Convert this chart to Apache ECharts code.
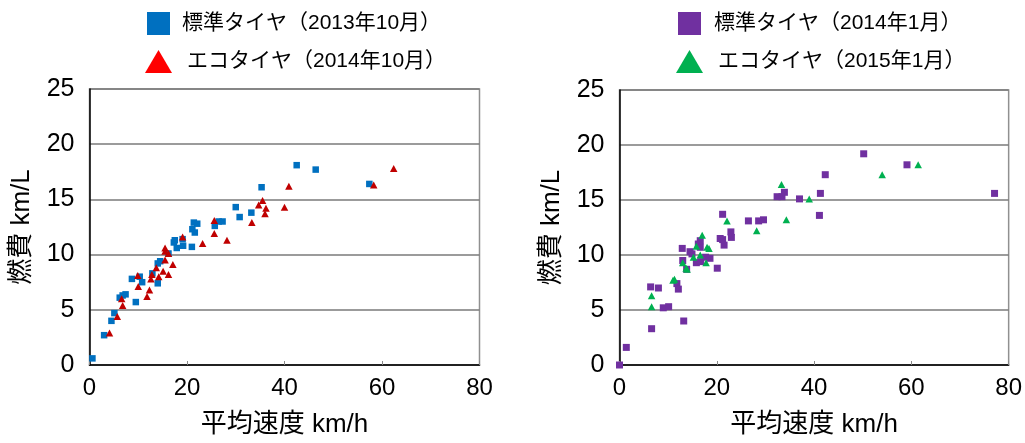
<!DOCTYPE html>
<html>
<head>
<meta charset="utf-8">
<script src="https://cdn.jsdelivr.net/npm/echarts@6/dist/echarts.min.js"></script>
<style>
  html, body { margin: 0; padding: 0; background: #fff; }
  #chart { width: 1025px; height: 443px; }
</style>
</head>
<body>
<div id="chart"></div>
<script>
// Fuel economy (km/L) versus average speed (km/h), standard vs eco tyres
const seriesNames = [
  '標準タイヤ（2013年10月）',
  'エコタイヤ（2014年10月）',
  '標準タイヤ（2014年1月）',
  'エコタイヤ（2015年1月）'
];
const xTicks = [0, 20, 40, 60, 80];
const yTicks = [0, 5, 10, 15, 20, 25];
const xName = '平均速度 km/h';
const yName = '燃費 km/L';

// [average speed, fuel economy]
const standard201310 = [
  [0.6,0.6],[3.0,2.7],[4.5,4.0],[5.1,4.7],[6.2,6.1],[6.8,6.3],[7.4,6.4],[8.7,7.8],
  [9.5,5.7],[10.3,8.0],[10.8,7.5],[12.9,8.3],[14.0,7.4],[14.0,9.2],[14.5,9.4],
  [16.2,10.1],[17.3,11.1],[17.5,11.3],[17.9,10.6],[19.2,10.8],[19.1,11.4],[21.0,10.7],
  [21.1,12.3],[21.6,12.0],[21.4,12.9],[22.1,12.8],[25.7,12.6],[26.5,13.0],[27.3,13.0],
  [30.0,14.3],[30.8,13.4],[33.2,13.8],[35.3,16.1],[42.5,18.1],[46.4,17.7],[57.4,16.4]
];
const eco201410 = [
  [4.1,2.9],[5.7,4.4],[6.8,5.4],[6.6,6.0],[9.9,8.1],[10.0,7.1],[11.8,6.2],[12.3,6.8],
  [12.6,7.8],[12.8,8.2],[13.7,8.8],[14.2,8.0],[15.1,8.5],[15.5,9.5],[15.5,10.3],
  [15.5,10.6],[16.2,8.2],[16.2,10.1],[17.1,9.1],[19.1,11.6],[23.2,11.0],[25.6,13.1],
  [25.6,11.9],[28.2,11.3],[33.3,12.9],[34.7,14.5],[35.5,14.9],[36.2,14.2],[36.0,13.7],
  [40.0,14.3],[40.9,16.2],[58.3,16.3],[62.4,17.8]
];
const standard201401 = [
  [0,0],[1.4,1.6],[6.6,3.3],[6.4,7.1],[8.0,7.0],[9.0,5.2],[10.1,5.3],[13.2,4.0],
  [11.8,7.4],[12.1,6.9],[12.9,10.6],[13.0,9.5],[13.8,8.7],[14.5,10.3],[14.9,10.1],
  [15.8,9.3],[16.2,11.0],[16.6,10.7],[16.6,11.3],[16.7,9.4],[17.7,9.8],[18.6,9.7],
  [20.1,8.8],[20.7,11.5],[21.2,13.7],[21.5,10.9],[21.2,11.4],[22.9,12.1],[23.0,11.6],
  [26.5,13.1],[28.6,13.1],[29.6,13.2],[32.4,15.3],[33.4,15.3],[33.9,15.7],[37.0,15.1],
  [41.3,15.6],[41.1,13.6],[42.3,17.3],[50.2,19.2],[59.1,18.2],[77.1,15.6]
];
const eco201501 = [
  [6.6,5.3],[6.6,6.3],[11.0,7.7],[11.3,7.8],[13.0,9.3],[13.7,8.8],[13.9,8.7],
  [15.2,9.8],[15.8,10.8],[16.6,10.0],[17.0,11.8],[17.8,9.3],[18.0,10.7],[18.4,10.6],
  [22.1,13.1],[28.2,12.2],[33.3,16.4],[34.3,13.2],[39.0,15.1],[54.0,17.3],[61.4,18.2]
];

const FONT = '"Liberation Sans", Arial, "Noto Sans CJK JP", sans-serif';

const chart = echarts.init(document.getElementById('chart'), null, { renderer: 'canvas' });

function xAxis(gridIndex) {
  return {
    type: 'value', gridIndex,
    min: xTicks[0], max: xTicks[xTicks.length - 1], interval: 20,
    name: xName, nameLocation: 'middle', nameGap: 47,
    nameTextStyle: { fontFamily: FONT, fontSize: 26, color: '#000' },
    axisLine: { show: true, onZero: false, lineStyle: { color: '#000', width: 1.5 } },
    axisTick: { show: true, inside: true, length: 4, lineStyle: { color: '#888', width: 1 } },
    axisLabel: { fontFamily: FONT, fontSize: 24, color: '#000', margin: 11 },
    splitLine: { show: false }
  };
}
function yAxis(gridIndex) {
  return {
    type: 'value', gridIndex,
    min: yTicks[0], max: yTicks[yTicks.length - 1], interval: 5,
    name: yName, nameLocation: 'middle', nameGap: 55, nameRotate: 90,
    nameTextStyle: { fontFamily: FONT, fontSize: 26, color: '#000' },
    axisLine: { show: true, onZero: false, lineStyle: { color: '#000', width: 1.5 } },
    axisTick: { show: false },
    axisLabel: { fontFamily: FONT, fontSize: 25, color: '#000', margin: 15 },
    splitLine: { show: true, lineStyle: { color: '#7a7a7a', width: 1.5 } }
  };
}
function scatter(name, data, idx, symbol, size, color) {
  return {
    name, type: 'scatter', xAxisIndex: idx, yAxisIndex: idx,
    data, symbol, symbolSize: size, clip: false,
    itemStyle: { color, opacity: 1 },
    emphasis: { disabled: true }
  };
}
function legend(name, left, top, icon, w, h, color, pad) {
  return {
    left, top, padding: 0, orient: 'vertical',
    data: [{ name, icon, itemStyle: { color } }],
    itemWidth: w, itemHeight: h, selectedMode: false,
    textStyle: { fontFamily: FONT, fontSize: 21, color: '#000', padding: [0, 0, 0, pad] }
  };
}

chart.setOption({
  animation: false,
  backgroundColor: '#fff',
  grid: [
    { left: 89.5, right: 545.5, top: 89, bottom: 70.7, show: true, borderColor: '#909090', borderWidth: 1.5 },
    { left: 619.5, right: 15.5, top: 90, bottom: 69.7, show: true, borderColor: '#909090', borderWidth: 1.5 }
  ],
  legend: [
    legend(seriesNames[0], 147, 12, 'rect', 23, 23, '#0070C0', 7),
    legend(seriesNames[1], 145, 50, 'triangle', 27, 23, '#FF0000', 10),
    legend(seriesNames[2], 678, 12, 'rect', 23, 23, '#7030A0', 8),
    legend(seriesNames[3], 676, 50, 'triangle', 27, 23, '#00B050', 10)
  ],
  xAxis: [xAxis(0), xAxis(1)],
  yAxis: [yAxis(0), yAxis(1)],
  series: [
    scatter(seriesNames[0], standard201310, 0, 'rect', 6.5, '#0070C0'),
    scatter(seriesNames[1], eco201410, 0, 'triangle', [7.5, 7], '#C00000'),
    scatter(seriesNames[2], standard201401, 1, 'rect', 7, '#7030A0'),
    scatter(seriesNames[3], eco201501, 1, 'triangle', [7.5, 7], '#00B050')
  ]
});
</script>
</body>
</html>
